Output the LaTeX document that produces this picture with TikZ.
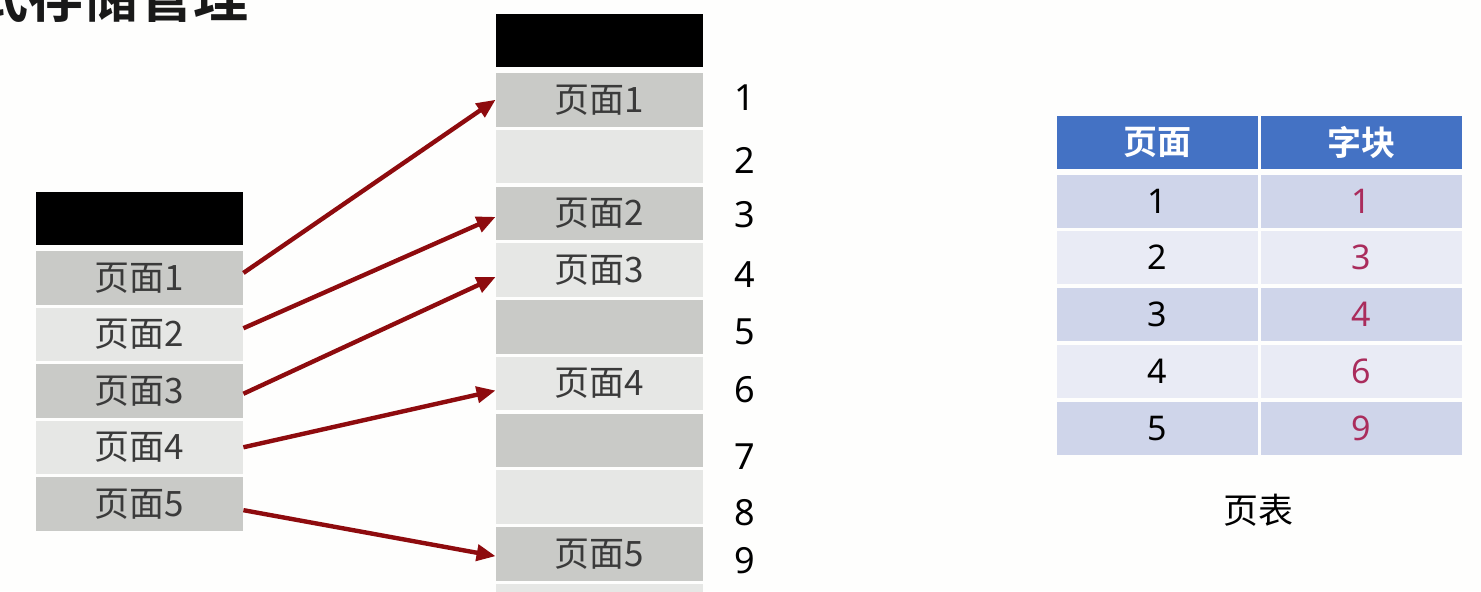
\documentclass[tikz,border=0pt]{standalone}
\usepackage{fontspec}
\usetikzlibrary{arrows.meta}
\newfontfamily\cjk{Noto Sans CJK SC}[BoldFont={Noto Sans CJK SC Bold}]
\newfontfamily\numf{Noto Sans}
\definecolor{cellD}{HTML}{C9CAC7}
\definecolor{cellL}{HTML}{E6E7E5}
\definecolor{txtgray}{HTML}{3A3A3A}
\definecolor{arrred}{HTML}{8E0B0E}
\definecolor{hdblue}{HTML}{4472C4}
\definecolor{rowD}{HTML}{CFD5EA}
\definecolor{rowL}{HTML}{E9EBF5}
\definecolor{numred}{HTML}{AA2C5C}
\definecolor{bgc}{HTML}{FEFEFD}
\tikzset{
  cell/.style={minimum width=103.5pt, minimum height=26.75pt, inner sep=0pt, text=txtgray, font=\cjk\fontsize{17.5}{17.5}\selectfont},
  dk/.style={cell, fill=cellD},
  lt/.style={cell, fill=cellL},
  blk/.style={cell, fill=black, minimum height=26.5pt},
  num/.style={inner sep=0pt, font=\numf\fontsize{18}{18}\selectfont, text=black},
  arr/.style={draw=arrred, line width=2.2pt, -{Triangle[length=9.5pt,width=8pt]}},
  tcell/.style={minimum width=100.5pt, minimum height=26.5pt, inner sep=0pt},
  th/.style={tcell, fill=hdblue, text=white, font=\cjk\bfseries\fontsize{17}{17}\selectfont},
  tdD/.style={tcell, fill=rowD, font=\numf\fontsize{17}{17}\selectfont},
  tdL/.style={tcell, fill=rowL, font=\numf\fontsize{17}{17}\selectfont},
  redtxt/.style={text=numred},
  titletxt/.style={inner sep=0pt, anchor=base west, text=black!90, font=\cjk\bfseries\fontsize{27.5}{27.5}\selectfont},
  captext/.style={inner sep=0pt, font=\cjk\fontsize{17.5}{17.5}\selectfont, text=black}
}
\begin{document}
\begin{tikzpicture}[x=0.5pt, y=-0.5pt]
\useasboundingbox (0,0) rectangle (1481,591);
\fill[bgc] (0,0) rectangle (1481,591);
\node[titletxt] (title) at (-27,17.5) {式存储管理};
% left column (logical pages)
\node[blk] (LB) at (139.5,218.5) {};
\node[dk] (L1) at (139.5,277.75) {页面1};
\node[lt] (L2) at (139.5,334.25) {页面2};
\node[dk] (L3) at (139.5,390.75) {页面3};
\node[lt] (L4) at (139.5,447.25) {页面4};
\node[dk] (L5) at (139.5,503.75) {页面5};
% middle column (physical blocks)
\node[blk] (MB) at (599.5,40.5) {};
\node[dk] (M1) at (599.5,99.75) {页面1};
\node[lt] (M2) at (599.5,156.5) {};
\node[dk] (M3) at (599.5,213.25) {页面2};
\node[lt] (M4) at (599.5,270) {页面3};
\node[dk] (M5) at (599.5,326.75) {};
\node[lt] (M6) at (599.5,383.5) {页面4};
\node[dk] (M7) at (599.5,440.25) {};
\node[lt] (M8) at (599.5,497) {};
\node[dk] (M9) at (599.5,553.75) {页面5};
\node[lt] (M10) at (599.5,610.5) {};
% block numbers
\node[num] (n1) at (745,98) {1};
\node[num] (n2) at (745,160) {2};
\node[num] (n3) at (745,215) {3};
\node[num] (n4) at (745,275) {4};
\node[num] (n5) at (745,332) {5};
\node[num] (n6) at (745,390) {6};
\node[num] (n7) at (745,457) {7};
\node[num] (n8) at (745,513) {8};
\node[num] (n9) at (745,561) {9};
% arrows
\draw[arr] ([yshift=2.4pt]L1.east) -- (M1.west);
\draw[arr] ([yshift=3pt]L2.east) -- ([yshift=-1.8pt]M3.west);
\draw[arr] ([yshift=-1.5pt]L3.east) -- ([yshift=-3.5pt]M4.west);
\draw[arr] (L4.east) -- ([yshift=-3.5pt]M6.west);
\draw[arr] ([yshift=-3.2pt]L5.east) -- ([yshift=-1.2pt]M9.west);
% page table
\node[th] (h1) at (1157,142.5) {页面};
\node[th] (h2) at (1361,142.5) {字块};
\node[tdD] (a1) at (1157,201.5) {1};
\node[tdD,redtxt] (b1) at (1361,201.5) {1};
\node[tdL] (a2) at (1157,257.5) {2};
\node[tdL,redtxt] (b2) at (1361,257.5) {3};
\node[tdD] (a3) at (1157,314.5) {3};
\node[tdD,redtxt] (b3) at (1361,314.5) {4};
\node[tdL] (a4) at (1157,371.5) {4};
\node[tdL,redtxt] (b4) at (1361,371.5) {6};
\node[tdD] (a5) at (1157,428.5) {5};
\node[tdD,redtxt] (b5) at (1361,428.5) {9};
\node[captext] (ptcap) at (1258,510) {页表};
\end{tikzpicture}
\end{document}
